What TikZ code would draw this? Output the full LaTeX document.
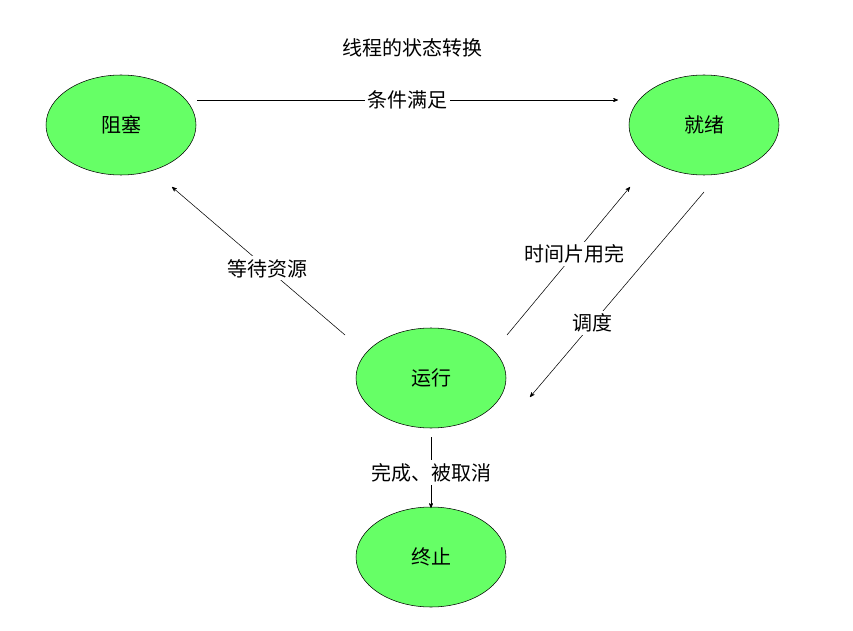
\documentclass[tikz,border=0pt]{standalone}
\usepackage{fontspec}
\setmainfont{Noto Sans CJK SC}
\usetikzlibrary{arrows,shapes.geometric}
\definecolor{stategreen}{HTML}{66FF66}

\begin{document}
\begin{tikzpicture}[x=0.75pt,y=-0.75pt,->,>=stealth',
  state/.style={ellipse,draw,fill=stategreen,minimum width=112.5pt,minimum height=75pt,inner sep=0pt},
  lbl/.style={fill=white,inner sep=2pt},
  every node/.style={font=\fontsize{15}{18}\selectfont}]
\useasboundingbox (0,0) rectangle (853,631);

\node[state] (Z) at (121,125) {阻塞};
\node[state] (J) at (704,125) {就绪};
\node[state] (Y) at (431,378) {运行};
\node[state] (T) at (431,557) {终止};
\node (title) at (412,48) {线程的状态转换};

\coordinate (z1) at (197,100);
\coordinate (j1) at (618,100);
\coordinate (y1) at (345,335);
\coordinate (z2) at (172,187);
\coordinate (y2) at (507,335);
\coordinate (j2) at (630,187);
\coordinate (j3) at (704,192);
\coordinate (y3) at (530,397);
\coordinate (y4) at (431,437);
\coordinate (t1) at (431,508);

\draw (z1) -- node[lbl] {条件满足} (j1);
\draw (y1) -- node[lbl,pos=0.45] {等待资源} (z2);
\draw (y2) -- node[lbl,pos=0.55] {时间片用完} (j2);
\draw (j3) -- node[lbl,pos=0.64] {调度} (y3);
\draw (y4) -- node[lbl,pos=0.5] {完成、被取消} (t1);
\end{tikzpicture}
\end{document}
